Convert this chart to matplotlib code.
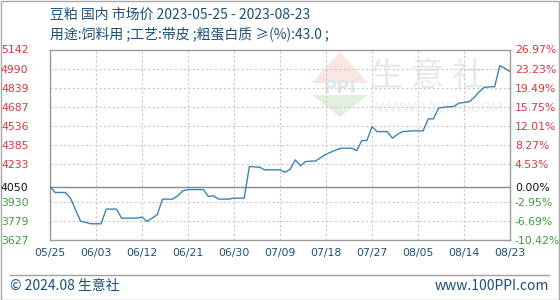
import matplotlib
matplotlib.use("Agg")
import matplotlib.pyplot as plt
import matplotlib.dates as mdates
from matplotlib.patches import Polygon, Rectangle
from matplotlib.lines import Line2D
import pandas as pd

plt.rcParams['font.family'] = ['Noto Sans CJK SC', 'DejaVu Sans']

title_line1 = "豆粕 国内 市场价 2023-05-25 - 2023-08-23"
title_line2 = "用途:饲料用 ;工艺:带皮 ;粗蛋白质 ≥(%):43.0 ;"
footer_left = "© 2024.08 生意社"
footer_right = "www.100PPI.com"

dates = ["2023-05-25", "2023-05-26", "2023-05-28", "2023-05-29", "2023-05-31", "2023-06-01",
         "2023-06-02", "2023-06-04", "2023-06-05", "2023-06-07", "2023-06-08", "2023-06-11",
         "2023-06-12", "2023-06-13", "2023-06-15", "2023-06-16", "2023-06-18", "2023-06-19",
         "2023-06-20", "2023-06-21", "2023-06-24", "2023-06-25", "2023-06-26", "2023-06-27",
         "2023-06-29", "2023-06-30", "2023-07-02", "2023-07-03", "2023-07-05", "2023-07-06",
         "2023-07-09", "2023-07-10", "2023-07-11", "2023-07-12", "2023-07-13", "2023-07-14",
         "2023-07-16", "2023-07-18", "2023-07-20", "2023-07-21", "2023-07-23", "2023-07-24",
         "2023-07-25", "2023-07-26", "2023-07-27", "2023-07-28", "2023-07-30", "2023-07-31",
         "2023-08-01", "2023-08-02", "2023-08-04", "2023-08-06", "2023-08-07", "2023-08-08",
         "2023-08-09", "2023-08-10", "2023-08-12", "2023-08-13", "2023-08-15", "2023-08-16",
         "2023-08-17", "2023-08-18", "2023-08-20", "2023-08-21", "2023-08-22", "2023-08-23"]
prices = [4050, 4005, 4005, 3960, 3775, 3767,
          3756, 3756, 3873, 3873, 3801, 3801,
          3809, 3775, 3828, 3952, 3952, 3979,
          4019, 4028, 4028, 3973, 3979, 3952,
          3952, 3960, 3960, 4211, 4206, 4185,
          4185, 4166, 4190, 4264, 4217, 4251,
          4256, 4309, 4344, 4357, 4357, 4338,
          4418, 4418, 4529, 4489, 4489, 4436,
          4468, 4489, 4495, 4495, 4590, 4590,
          4675, 4683, 4689, 4715, 4727, 4760,
          4807, 4842, 4847, 5013, 4993, 4966]

base_value = 4050
left_ticks = [3627, 3779, 3930, 4050, 4233, 4385, 4536, 4687, 4839, 4990, 5142]
right_labels = ["-10.42%", "-6.69%", "-2.95%", "0.00%", "4.53%", "8.27%",
                "12.01%", "15.75%", "19.49%", "23.23%", "26.97%"]
x_start = "2023-05-25"
x_end = "2023-08-23"

RED = '#d9363e'
GREEN = '#3f9a3f'
BLACK = '#111111'
NAVY = '#1d4f78'

fig = plt.figure(figsize=(5.6, 3.0), dpi=100)
W, H = 560, 300
ax = fig.add_axes([50 / W, 1 - 240 / H, 460 / W, 190.5 / H])

x = pd.to_datetime(dates)
ax.plot(x, prices, color='#3b84b2', lw=1.0, zorder=5)

ax.set_xlim(pd.Timestamp(x_start), pd.Timestamp(x_end))
ax.set_ylim(left_ticks[0], left_ticks[-1])

xticks = pd.date_range(x_start, x_end, freq='9D')
ax.set_xticks(xticks)
ax.xaxis.set_major_formatter(mdates.DateFormatter('%m/%d'))
ax.set_yticks(left_ticks)
ax.set_yticklabels([str(v) for v in left_ticks])

def tcol(v):
    if v > base_value:
        return RED
    if v < base_value:
        return GREEN
    return BLACK

for lab, v in zip(ax.get_yticklabels(), left_ticks):
    lab.set_color(tcol(v))

ax.tick_params(axis='y', length=0, pad=15.5, labelsize=7.8)
ax.tick_params(axis='x', length=0, pad=6, labelsize=7.8, colors=NAVY)
for lab in ax.get_xticklabels():
    lab.set_family('DejaVu Sans')
for lab in ax.get_yticklabels():
    lab.set_family('DejaVu Sans')

ax.grid(True, color='#c8c8c8', lw=0.8, linestyle=(0, (2, 2)))
ax.axhline(base_value, color='#8a8a8a', lw=1.0, zorder=3)
for s in ax.spines.values():
    s.set_color('#9a9a9a')
    s.set_linewidth(1.0)

ax2 = ax.twinx()
ax2.set_ylim(ax.get_ylim())
ax2.set_yticks(left_ticks)
ax2.set_yticklabels(right_labels)
for lab, v in zip(ax2.get_yticklabels(), left_ticks):
    lab.set_color(tcol(v))
    lab.set_family('DejaVu Sans')
ax2.tick_params(axis='y', length=0, pad=3.5, labelsize=7.8)
for s in ax2.spines.values():
    s.set_visible(False)

# watermark
wm = '#e6e9ef'
fig.text(428 / W, 1 - 76 / H, "生 意 社", fontsize=24, color=wm, ha='center', va='center',
         zorder=0)
fig.text(440 / W, 1 - 108 / H, "WWW.100PPI.COM", fontsize=10, color='#eceef1',
         ha='center', va='center', family='DejaVu Sans', zorder=0)
roof = Polygon([[312 / W, 1 - 83 / H], [340 / W, 1 - 52 / H], [368 / W, 1 - 83 / H]],
               closed=True, transform=fig.transFigure, facecolor='#f9e5e1', edgecolor='none', zorder=0)
base = Polygon([[312 / W, 1 - 95 / H], [340 / W, 1 - 117 / H], [368 / W, 1 - 95 / H]],
               closed=True, transform=fig.transFigure, facecolor='#e3f0e1', edgecolor='none', zorder=0)
fig.add_artist(roof)
fig.add_artist(base)
fig.text(340 / W, 1 - 88 / H, "PPI", fontsize=13, color='#dfe6ef', ha='center', va='center',
         fontweight='bold', family='DejaVu Sans', zorder=0)
ax.set_zorder(2)
ax.patch.set_alpha(0)
ax2.set_zorder(3)

# titles
fig.text(50 / W, 1 - 15 / H, title_line1, fontsize=10, color=NAVY, ha='left', va='center')
fig.text(50 / W, 1 - 34 / H, title_line2, fontsize=10, color=NAVY, ha='left', va='center')

# footer
fig.add_artist(Line2D([10 / W, 549 / W], [1 - 275 / H, 1 - 275 / H], transform=fig.transFigure,
                      color='#a0a0a0', lw=1))
fig.text(10 / W, 1 - 286 / H, footer_left, fontsize=10, color=NAVY, ha='left', va='center')
fig.text(549 / W, 1 - 286 / H, footer_right, fontsize=10, color=NAVY, ha='right', va='center')

# outer border
fig.add_artist(Rectangle((0.5 / W, 0.5 / H), 1 - 1.5 / W, 1 - 1.5 / H, transform=fig.transFigure,
                         fill=False, edgecolor='#a8a8a8', lw=1))

fig.savefig('out.png', dpi=100)
